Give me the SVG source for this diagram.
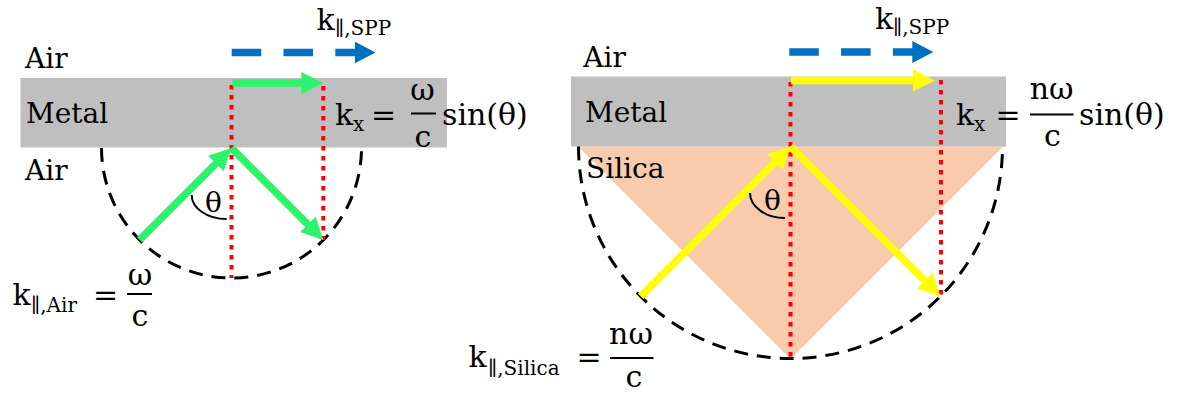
<svg xmlns="http://www.w3.org/2000/svg" width="1178" height="393" viewBox="0 0 1178 393">
<style>
text{font-family:"DejaVu Serif","Liberation Serif",serif;fill:#000}
.lbl{font-size:28px}
.m{font-size:30px}
.s{font-size:20px}
.c{text-anchor:middle}
.bar{stroke:#000;stroke-width:2}
.circ{fill:none;stroke:#000;stroke-width:3;stroke-dasharray:14 9}
.red{stroke:#FF0000;stroke-width:4;stroke-dasharray:4.5 5.5;fill:none}
.grn{stroke:#2EF26B;stroke-width:7.5;fill:none;marker-end:url(#hg)}
.yel{stroke:#FFFF00;stroke-width:7.5;fill:none;marker-end:url(#hy)}
.blu{stroke:#0070C0;stroke-width:7.5;fill:none;stroke-dasharray:29.5 22.3;marker-end:url(#hb)}
.arc{fill:none;stroke:#000;stroke-width:2}
</style>
<defs>
<marker id="hg" markerUnits="userSpaceOnUse" markerWidth="24" markerHeight="24" viewBox="0 -12 24 24" refX="1" refY="0" orient="auto"><path d="M0,-11 L22,0 L0,11 Z" fill="#2EF26B"/></marker>
<marker id="hy" markerUnits="userSpaceOnUse" markerWidth="24" markerHeight="24" viewBox="0 -12 24 24" refX="1" refY="0" orient="auto"><path d="M0,-11 L22,0 L0,11 Z" fill="#FFFF00"/></marker>
<marker id="hb" markerUnits="userSpaceOnUse" markerWidth="24" markerHeight="24" viewBox="0 -12 24 24" refX="1" refY="0" orient="auto"><path d="M0,-11 L21,0 L0,11 Z" fill="#0070C0"/></marker>
</defs>

<!-- Left panel -->
<g id="left-metal"><rect x="20.5" y="78" width="426.5" height="69.5" fill="#BFBFBF"/><text class="lbl" x="26" y="123">Metal</text></g>
<g id="left-air-top"><text class="lbl" x="25" y="68">Air</text></g>
<g id="left-air-bottom"><text class="lbl" x="25" y="180">Air</text></g>
<g id="left-circle"><path class="circ" d="M101.5 148 A130 130 0 0 0 361.5 148"/></g>
<g id="left-kspp"><text class="m" x="316.5" y="30">k</text><text class="s" x="335" y="35">∥,SPP</text></g>
<g id="left-kx"><text class="m" x="335" y="125">k</text><text class="s" x="353" y="131">x</text><text class="m c" x="383.5" y="125">=</text><text class="m c" x="422.5" y="100">ω</text><line class="bar" x1="411" y1="113.5" x2="436" y2="113.5"/><text class="m c" x="423" y="147">c</text><text class="m" x="442" y="125">sin(θ)</text></g>
<g id="left-kair"><text class="m" x="12.5" y="305">k</text><text class="s" x="31" y="311.5">∥,Air</text><text class="m c" x="105.5" y="305">=</text><text class="m c" x="140" y="285">ω</text><line class="bar" x1="127" y1="294" x2="152" y2="294"/><text class="m c" x="140" y="326">c</text></g>
<g id="left-theta"><path class="arc" d="M191.7 195 A35 24 0 0 0 226.7 219"/><text class="lbl" x="205" y="211.5">θ</text></g>

<!-- Right panel -->
<g id="right-silica"><path d="M578 146.5 L1003 146.5 L790.5 359 Z" fill="#F8CBAD"/><text class="lbl" x="586" y="178.3">Silica</text></g>
<g id="right-metal"><rect x="571" y="76.5" width="435" height="70" fill="#BFBFBF"/><text class="lbl" x="585" y="121.7">Metal</text></g>
<g id="right-air"><text class="lbl" x="583.3" y="66.7">Air</text></g>
<g id="right-circle"><path class="circ" d="M578.5 146.5 A212 212 0 0 0 1002.5 146.5"/></g>
<g id="right-kspp"><text class="m" x="875" y="29">k</text><text class="s" x="893" y="34">∥,SPP</text></g>
<g id="right-kx"><text class="m" x="956" y="125">k</text><text class="s" x="974" y="131">x</text><text class="m c" x="1008" y="125">=</text><text class="m c" x="1051.7" y="99">nω</text><line class="bar" x1="1030" y1="114.5" x2="1073.5" y2="114.5"/><text class="m c" x="1052.5" y="146">c</text><text class="m" x="1079" y="125">sin(θ)</text></g>
<g id="right-ksilica"><text class="m" x="468.5" y="366.5">k</text><text class="s" x="488" y="375">∥,Silica</text><text class="m c" x="589" y="366.5">=</text><text class="m c" x="631" y="343.5">nω</text><line class="bar" x1="610" y1="358" x2="653.5" y2="358"/><text class="m c" x="634" y="387">c</text></g>
<g id="right-theta"><path class="arc" d="M750 193 A35 25 0 0 0 785 218"/><text class="lbl" x="764" y="210">θ</text></g>

<!-- Connectors -->
<g id="connectors">
<line class="blu" x1="231.7" y1="52.5" x2="355.5" y2="52.5"/>
<line class="red" x1="231.5" y1="85" x2="231.5" y2="278"/>
<line class="red" x1="323.3" y1="86" x2="323.3" y2="240"/>
<line class="grn" x1="232.7" y1="83" x2="302.3" y2="83"/>
<line class="grn" x1="139.6" y1="239.9" x2="216.65" y2="162.85"/>
<line class="grn" x1="231.5" y1="148" x2="308.55" y2="225.05"/>

<line class="blu" x1="789.3" y1="52" x2="913.3" y2="52"/>
<line class="red" x1="790.5" y1="82" x2="790.5" y2="360"/>
<line class="red" x1="941" y1="80" x2="941" y2="300"/>
<line class="yel" x1="791" y1="80.5" x2="914" y2="80.5"/>
<line class="yel" x1="640.6" y1="296.4" x2="775.65" y2="161.35"/>
<line class="yel" x1="790.5" y1="146.5" x2="925.55" y2="281.55"/>
</g>
</svg>
